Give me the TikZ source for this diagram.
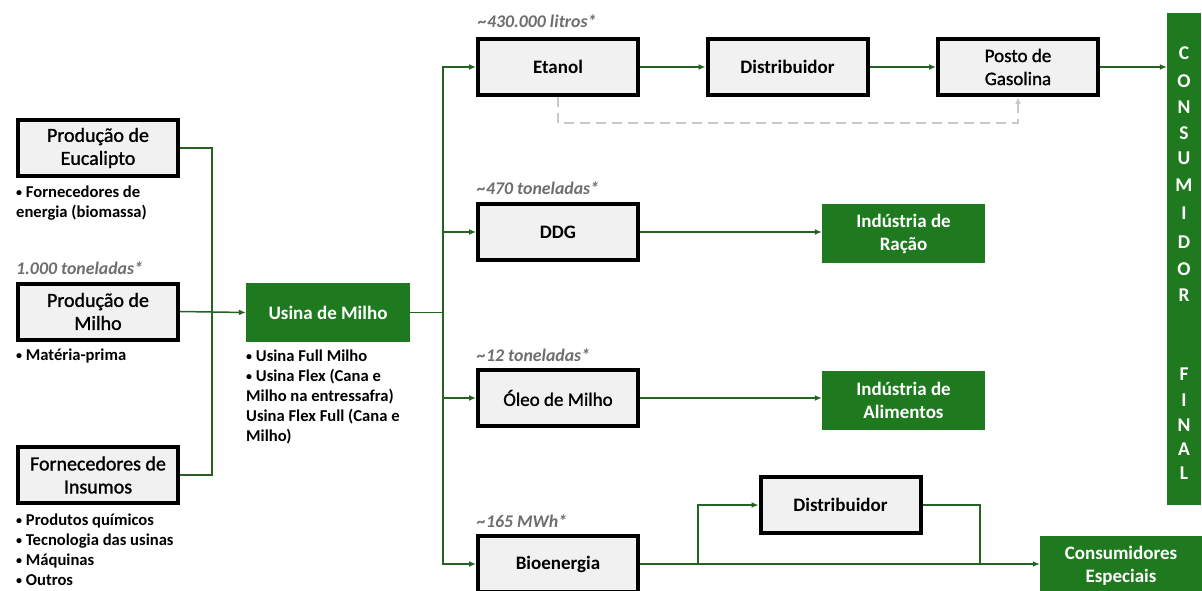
\documentclass[tikz,border=0pt]{standalone}
\usepackage{fontspec}
\setmainfont{Carlito}
\newfontfamily\semifont[FakeBold=1.3]{Carlito}
\usetikzlibrary{arrows.meta}
\definecolor{boxgreen}{RGB}{31,122,31}
\definecolor{linegreen}{RGB}{36,99,36}
\definecolor{boxgray}{RGB}{241,241,241}
\definecolor{labelgray}{RGB}{110,110,110}
\definecolor{dashgray}{RGB}{200,200,200}
% small list bullet
\newcommand\smallbul{\raisebox{0.18ex}{\fontsize{12}{12}\selectfont •}}

\begin{document}
\begin{tikzpicture}[x=1pt,y=-1pt,
  stage/.style={draw=black,line width=4pt,fill=boxgray,minimum width=160pt,minimum height=56pt,
    align=center,inner sep=0pt,font=\fontsize{19}{23}\selectfont\semifont},
  stagebold/.style={stage,font=\fontsize{19}{23}\selectfont\bfseries},
  source/.style={stage,font=\fontsize{20}{23}\selectfont\semifont},
  sink/.style={fill=boxgreen,text=white,minimum width=163pt,minimum height=59pt,
    align=center,inner sep=0pt,font=\fontsize{19}{23}\selectfont\bfseries},
  qty/.style={anchor=base west,inner sep=0pt,text=labelgray,
    font=\fontsize{17.8}{20}\selectfont\bfseries\itshape},
  note/.style={anchor=north west,inner sep=0pt,align=left,
    font=\fontsize{16.6}{20}\selectfont\bfseries},
  letter/.style={inner sep=0pt,text=white,font=\fontsize{19.5}{23}\selectfont\bfseries},
  flow/.style={draw=linegreen,line width=1.5pt},
  feed/.style={flow,-{Latex[length=7pt,width=6pt]}},
  altroute/.style={draw=dashgray,line width=1.8pt,dash pattern=on 10pt off 6pt,
    -{Latex[length=7pt,width=6pt]}},
]
\fill[white] (0,0) rectangle (1202,591);
\clip (0,0) rectangle (1202,591);

% inputs
\node[source] (euc) at (98,148) {Produção de\\Eucalipto};
\node[source] (mil) at (98,311.5) {Produção de\\Milho};
\node[source] (ins) at (98,475) {Fornecedores de\\Insumos};

\node[note] (eucnote) at (16,186) {\smallbul\ Fornecedores de\\energia (biomassa)};
\node[qty] (milqty) at (16,274) {1.000 toneladas*};
\node[note] (milnote) at (16,349) {\smallbul\ Matéria-prima};
\node[note] (insnote) at (16,514) {\smallbul\ Produtos químicos\\\smallbul\ Tecnologia das usinas\\\smallbul\ Máquinas\\\smallbul\ Outros};

% plant
\node[sink,minimum width=164pt] (usina) at (328,312.5) {Usina de Milho};
\node[note] (usinanote) at (246,350) {\smallbul\ Usina Full Milho\\\smallbul\ Usina Flex (Cana e\\Milho na entressafra)\\Usina Flex Full (Cana e\\Milho)};

% products
\node[stagebold] (etanol) at (558,67) {Etanol};
\node[stagebold] (dist1) at (787.5,67) {Distribuidor};
\node[stage] (posto) at (1018,67) {Posto de\\Gasolina};
\node[stagebold] (ddg) at (558,232) {DDG};
\node[stage] (oleo) at (558,398) {Óleo de Milho};
\node[stagebold] (bio) at (558,564) {Bioenergia};
\node[stagebold] (dist2) at (840.5,505) {Distribuidor};

\node[qty] (etqty) at (478,28) {\textasciitilde 430.000 litros*};
\node[qty] (ddgqty) at (477,194) {\textasciitilde 470 toneladas*};
\node[qty] (oleoqty) at (477,361) {\textasciitilde 12 toneladas*};
\node[qty] (bioqty) at (477,527) {\textasciitilde 165 MWh*};

% destinations
\node[sink] (racao) at (903.5,233.5) {Indústria de\\Ração};
\node[sink] (alim) at (903.5,400) {Indústria de\\Alimentos};
\node[sink,minimum width=162pt,minimum height=60pt] (espec) at (1121,566) {Consumidores\\Especiais};
\node[fill=boxgreen,minimum width=34pt,minimum height=492pt,inner sep=0pt] (cons) at (1184,259) {};
\foreach \ch/\yy [count=\i] in {C/53,O/81,N/107,S/133,U/158,M/185,I/213,D/242,O/269,R/295,
                                 F/374,I/400,N/425,A/449,L/473}
  \node[letter] (cf\i) at (1184,\yy) {\ch};

% connectors: inputs to plant
\coordinate (jin) at (212,311.5);
\draw[flow] (euc.east) -| (jin);
\draw[flow] (ins.east) -| (jin);
\draw[feed] (mil.east) -- (usina.west);

% plant to products
\coordinate (jout) at (443,312.5);
\draw[flow] (usina.east) -- (jout);
\draw[feed] (jout) |- (etanol.west);
\draw[feed] (jout) |- (ddg.west);
\draw[feed] (jout) |- (oleo.west);
\draw[feed] (jout) |- (bio.west);

% ethanol chain
\draw[feed] (etanol.east) -- (dist1.west);
\draw[feed] (dist1.east) -- (posto.west);
\draw[feed] (posto.east) -- (cons.west |- posto.east);
\draw[altroute] (etanol.south) -- ++(0,26) -| (posto.south);

% co-products
\draw[feed] (ddg.east) -- (racao.west |- ddg.east);
\draw[feed] (oleo.east) -- (alim.west |- oleo.east);

% bioenergy
\draw[feed] (bio.east) -- (espec.west |- bio.east);
\coordinate (jbio) at (698,564);
\draw[feed] (jbio) |- (dist2.west);
\coordinate (jback) at (980,564);
\draw[flow] (dist2.east) -| (jback);
\end{tikzpicture}
\end{document}
